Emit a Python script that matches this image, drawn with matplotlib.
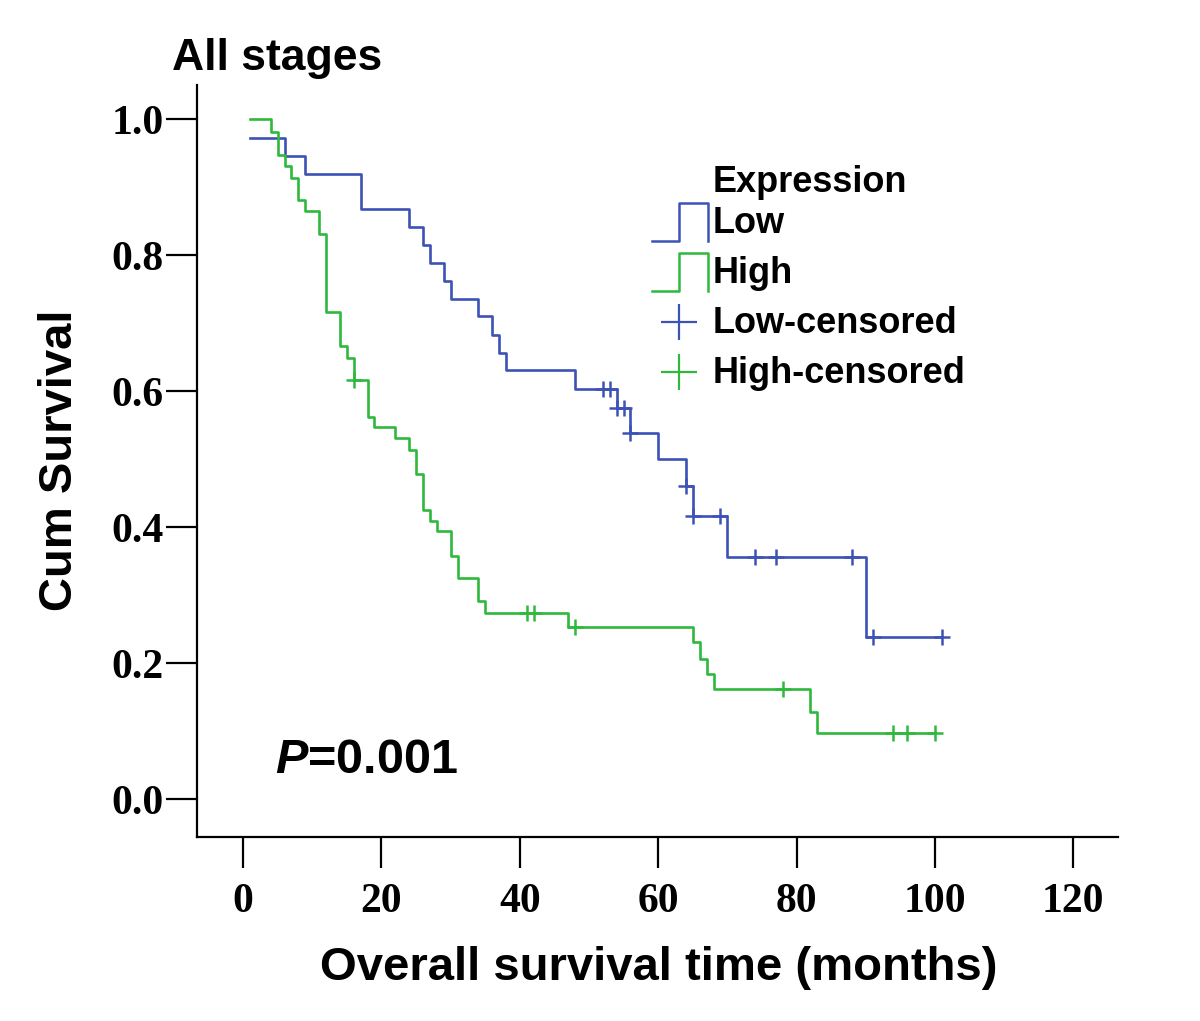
import matplotlib
matplotlib.use('Agg')
import matplotlib.pyplot as plt
import numpy as np
from matplotlib.lines import Line2D

# Low expression: step times (months) and survival after each step
low_times = [1, 6, 9, 17, 24, 26, 27, 29, 30, 34, 36, 37, 38, 48, 54, 56, 60, 64, 65, 70, 90]
low_surv = [0.972, 0.946, 0.920, 0.868, 0.842, 0.815, 0.789, 0.762, 0.736, 0.710, 0.683,
            0.657, 0.631, 0.604, 0.575, 0.539, 0.501, 0.461, 0.416, 0.356, 0.238]
low_censored = [52, 53, 54, 55, 56, 64, 65, 69, 74, 77, 88, 91, 101]

# High expression
high_times = [1, 4, 5, 6, 7, 8, 9, 11, 12, 14, 15, 16, 18, 19, 22, 24, 25, 26, 27, 28,
              30, 31, 34, 35, 47, 65, 66, 67, 68, 82, 83]
high_surv = [1.0, 0.982, 0.948, 0.932, 0.914, 0.881, 0.865, 0.831, 0.716, 0.667, 0.649,
             0.616, 0.562, 0.547, 0.531, 0.513, 0.478, 0.425, 0.409, 0.394, 0.358, 0.325,
             0.291, 0.274, 0.254, 0.232, 0.207, 0.184, 0.162, 0.129, 0.097]
high_censored = [16, 41, 42, 48, 78, 94, 96, 100]

x_ticks = [0, 20, 40, 60, 80, 100, 120]
y_ticks = [0.0, 0.2, 0.4, 0.6, 0.8, 1.0]

BLUE = '#3d52b5'
GREEN = '#2fb93c'
W, H = 1200, 1021

plt.rcParams['font.family'] = ['Liberation Sans', 'DejaVu Sans']
plt.rcParams['font.weight'] = 'bold'
plt.rcParams['mathtext.fontset'] = 'custom'
plt.rcParams['mathtext.it'] = 'Liberation Sans:italic:bold'

fig = plt.figure(figsize=(W / 100, H / 100), dpi=100)
ax = fig.add_axes([197 / W, 1 - 836.7 / H, (1118 - 197) / W, (836.7 - 85) / H])


def km_curve(times, surv, censored, color):
    t = np.append(times, max(censored))
    s = np.append(surv, surv[-1])
    ax.step(t, s, where='post', color=color, lw=1.9)
    idx = np.searchsorted(times, censored, side='right') - 1
    ax.plot(censored, np.asarray(surv)[idx], ls='none', marker='+', color=color,
            ms=11, mew=1.8)


km_curve(low_times, low_surv, low_censored, BLUE)
km_curve(high_times, high_surv, high_censored, GREEN)

ax.set_xlim(-6.65, 126.46)
ax.set_ylim(-0.055, 1.0504)
for side in ['top', 'right']:
    ax.spines[side].set_visible(False)
for side in ['left', 'bottom']:
    ax.spines[side].set_linewidth(1.6)
ax.set_xticks(x_ticks)
ax.set_yticks(y_ticks)
ax.set_yticklabels([f'{v:.1f}' for v in y_ticks])
ax.tick_params(direction='out', length=22, width=1.6, labelsize=30)
ax.tick_params(axis='y', pad=2)
ax.tick_params(axis='x', pad=11)
for lab in ax.get_xticklabels() + ax.get_yticklabels():
    lab.set_family('Liberation Serif')
    lab.set_weight('bold')

ax.text(4.6, 0.039, r'$\mathit{P}$=0.001', fontsize=35, fontweight='bold', va='baseline')

fig.text(172 / W, 1 - 70 / H, 'All stages', fontsize=32, fontweight='bold', va='baseline')
fig.text(60 / W, 1 - 460 / H, 'Cum Survival', fontsize=34, fontweight='bold',
         rotation=90, ha='center', va='center')
fig.text(659 / W, 1 - 968 / H, 'Overall survival time (months)', fontsize=34,
         fontweight='bold', ha='center', va='center')


# legend, drawn in figure pixels
def fpx(xs, ys):
    return [x / W for x in xs], [1 - y / H for y in ys]


fig.text(713 / W, 1 - 192 / H, 'Expression', fontsize=26, fontweight='bold', va='baseline')
legend_rows = [('Low', BLUE, 'step', 233), ('High', GREEN, 'step', 283),
               ('Low-censored', BLUE, 'cross', 333), ('High-censored', GREEN, 'cross', 383)]
for label, color, kind, base in legend_rows:
    mid = base - 11
    if kind == 'step':
        xs, ys = fpx([652, 679, 679, 708, 708], [mid + 19, mid + 19, mid - 19, mid - 19, mid + 19])
        fig.add_artist(Line2D(xs, ys, color=color, lw=1.8, transform=fig.transFigure))
    else:
        xs, ys = fpx([679], [mid])
        fig.add_artist(Line2D(xs, ys, color=color, marker='+', ms=26, mew=1.6, ls='none',
                              transform=fig.transFigure))
    fig.text(713 / W, 1 - base / H, label, fontsize=26, fontweight='bold', va='baseline')

fig.savefig('out.png', dpi=100)
